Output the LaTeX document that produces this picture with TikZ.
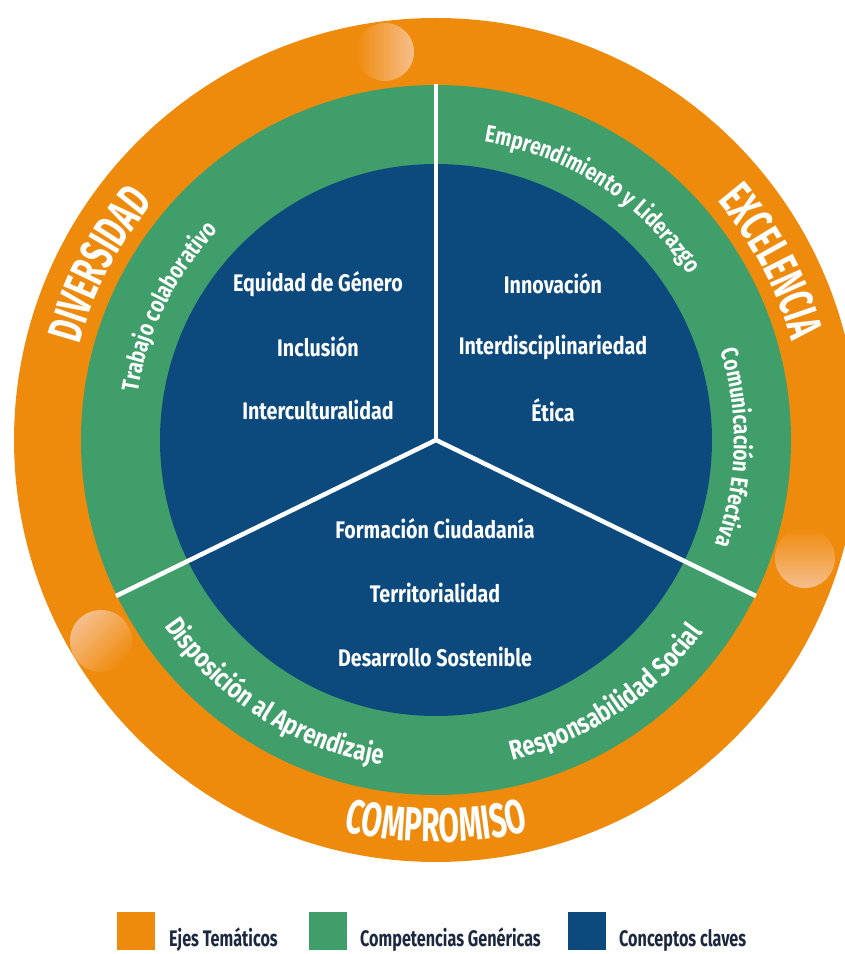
\documentclass[tikz,border=0pt]{standalone}
\usepackage{fontspec}
\setmainfont{Fira Sans}[FakeStretch=0.82]
\newfontfamily\bigfam{Fira Sans}[FakeStretch=0.62]
\newfontfamily\ringfam{Fira Sans}[FakeStretch=0.8]
\newfontfamily\ringlowfam{Fira Sans}[FakeStretch=0.8]
\newfontfamily\legfam{Fira Sans}[FakeStretch=0.72]
\usetikzlibrary{decorations.text}
\definecolor{ejes}{RGB}{239,139,12}
\definecolor{comp}{RGB}{64,158,106}
\definecolor{conc}{RGB}{12,74,126}
\definecolor{peach}{RGB}{246,190,140}
\definecolor{legtxt}{RGB}{28,40,64}
\newcommand\bigfont{\bigfam\bfseries\fontsize{48}{48}\selectfont}
\newcommand\ringfont{\ringfam\bfseries\fontsize{24}{24}\selectfont}
\newcommand\ringlowfont{\ringlowfam\bfseries\fontsize{27.5}{27.5}\selectfont}
\begin{document}
\begin{tikzpicture}[x=1pt,y=1pt,
  bigtxt/.style={decorate,decoration={text along path,text align=center,text color=white,text={|\bigfont|#1}}},
  ringtxt/.style={decorate,decoration={text along path,text align=center,text color=white,text={|\ringfont|#1}}},
  ringlowtxt/.style={decorate,decoration={text along path,text align=center,text color=white,text={|\ringlowfont|#1}}},
  concept/.style={text=white,font=\bfseries\fontsize{24}{24}\selectfont,inner sep=0pt},
  divider/.style={draw=white,line width=4.5pt},
  legbox/.style={minimum size=38pt,inner sep=0pt},
  legtext/.style={text=legtxt,font=\legfam\bfseries\fontsize{22.5}{22.5}\selectfont,anchor=base west,inner sep=0pt}]
\useasboundingbox (0,0) rectangle (845,954);
\coordinate (C) at (436,514);
% rings
\fill[ejes] (C) circle[radius=422];
\fill[comp] (C) circle[radius=355];
\fill[conc] (C) circle[radius=276];
% bubbles
\shade[left color=ejes,right color=peach] (385,902) circle[radius=29];
\shade[top color=ejes,bottom color=peach] (805,396) circle[radius=30];
\shade[top color=peach,bottom color=ejes,shading angle=45] (101,313) circle[radius=31];
% dividers
\path (C) ++(90:356) coordinate (Ltop);
\path (C) ++(206:356) coordinate (Lleft);
\path (C) ++(334:356) coordinate (Lright);
\draw[divider] (C) -- (Ltop);
\draw[divider] (C) -- (Lleft);
\draw[divider] (C) -- (Lright);
% thematic axes
\path[bigtxt=DIVERSIDAD] (C) ++(187.5:369) arc[start angle=187.5,end angle=117.5,radius=369];
\path[bigtxt=EXCELENCIA] (C) ++(63:369) arc[start angle=63,end angle=-7,radius=369];
\path[bigtxt=COMPROMISO] (C) ++(235:402) arc[start angle=235,end angle=305,radius=402];
% competencies
\path[ringtxt={Trabajo colaborativo}] (C) ++(193.5:302) arc[start angle=193.5,end angle=113.5,radius=302];
\path[ringtxt={Emprendimiento y Liderazgo}] (C) ++(112:302) arc[start angle=112,end angle=2,radius=302];
\path[ringtxt={Comunicación Efectiva}] (C) ++(38.5:298) arc[start angle=38.5,end angle=-41.5,radius=298];
\path[ringlowtxt={Disposición al Aprendizaje}] (C) ++(177.5:329) arc[start angle=177.5,end angle=297.5,radius=329];
\path[ringlowtxt={Responsabilidad Social}] (C) ++(258.8:329) arc[start angle=258.8,end angle=348.8,radius=329];
% key concepts
\node[concept] (eq) at (318,670) {Equidad de Género};
\node[concept] (inc) at (318,607) {Inclusión};
\node[concept] (intc) at (318,544) {Interculturalidad};
\node[concept] (inn) at (553,670) {Innovación};
\node[concept] (intd) at (553,607) {Interdisciplinariedad};
\node[concept] (eti) at (553,544) {Ética};
\node[concept] (form) at (435,425) {Formación Ciudadanía};
\node[concept] (terr) at (435,361) {Territorialidad};
\node[concept] (des) at (435,297) {Desarrollo Sostenible};
% legend
\node[legbox,fill=ejes] (k1) at (136,22.5) {};
\node[legbox,fill=comp] (k2) at (327.5,22.5) {};
\node[legbox,fill=conc] (k3) at (587,22.5) {};
\node[legtext] (t1) at (169,7) {Ejes Temáticos};
\node[legtext] (t2) at (360,7) {Competencias Genéricas};
\node[legtext] (t3) at (619,7) {Conceptos claves};
\end{tikzpicture}
\end{document}
